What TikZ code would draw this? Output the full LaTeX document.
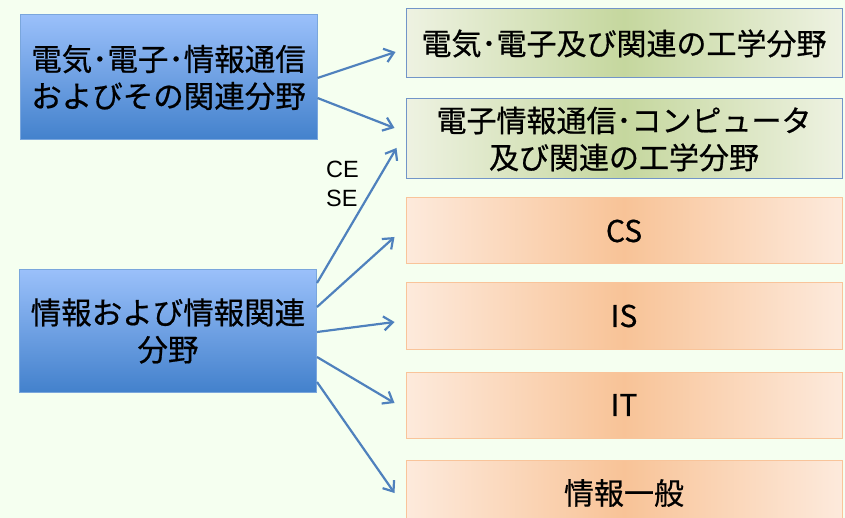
\documentclass[tikz,border=0pt]{standalone}
\usepackage{fontspec}
\setmainfont{Noto Sans CJK JP}[FakeBold=0.6]
\newfontfamily\latfont{Liberation Sans}
\usetikzlibrary{arrows.meta}
\definecolor{bg}{HTML}{F5FFF0}
\definecolor{bluetop}{HTML}{9AC0FA}
\definecolor{bluebot}{HTML}{4381CC}
\definecolor{blueline}{HTML}{7AA6DC}
\definecolor{greenedge}{HTML}{EEF2E2}
\definecolor{greenmid}{HTML}{C5D79E}
\definecolor{greenline}{HTML}{7295C8}
\definecolor{orangeedge}{HTML}{FDEADC}
\definecolor{orangemid}{HTML}{F8C397}
\definecolor{orangeline}{HTML}{F9C49A}
\definecolor{arrowblue}{HTML}{4F81BD}
\tikzset{
  srcbox/.style={draw=blueline, line width=1pt, top color=bluetop, bottom color=bluebot,
    minimum width=297pt, align=center, inner sep=0pt,
    font=\fontsize{30.5}{37}\selectfont},
  greenbox/.style={draw=greenline, line width=1pt, left color=greenedge, right color=greenedge, middle color=greenmid,
    minimum width=436pt, align=center, inner sep=0pt,
    font=\fontsize{30}{37}\selectfont},
  orangebox/.style={draw=orangeline, line width=1pt, left color=orangeedge, right color=orangeedge, middle color=orangemid,
    minimum width=436pt, minimum height=66pt, align=center, inner sep=0pt,
    font=\fontsize{30}{37}\selectfont},
  arr/.style={draw=arrowblue, line width=2.2pt, -{Straight Barb[length=9pt,width=14pt,line width=2.2pt]}}
}
\begin{document}
\begin{tikzpicture}[x=1pt,y=-1pt]
\useasboundingbox (0,0) rectangle (845,518);
\clip (0,0) rectangle (845,518);
\fill[bg] (0,0) rectangle (845,518);

\node[srcbox, minimum height=125pt] (L1) at (168.5,77.5) {電気･電子･情報通信\\およびその関連分野};
\node[srcbox, minimum height=122pt] (L2) at (168,331) {情報および情報関連\\分野};

\node[greenbox, minimum height=69pt] (A) at (624,43.5) {電気･電子及び関連の工学分野};
\node[greenbox, minimum height=80pt] (B) at (624,139) {電子情報通信･コンピュータ\\及び関連の工学分野};
\node[orangebox] (CS) at (624,231) {CS};
\node[orangebox] (IS) at (624,316) {IS};
\node[orangebox] (IT) at (624,405) {IT};
\node[orangebox] (GEN) at (624,493) {情報一般};

\node[font=\latfont\fontsize{23.5}{29}\selectfont, align=left, inner sep=0pt, anchor=west] (CESE) at (326,184) {CE\\SE};

\draw[arr] ([yshift=-0.5pt]L1.east) -- ([xshift=-10pt,yshift=-8.5pt]A.west);
\draw[arr] ([yshift=-20.5pt]L1.east) -- ([xshift=-11pt,yshift=11pt]B.west);
\draw[arr] ([yshift=48pt]L2.east) -- ([xshift=-9pt,yshift=-9pt]B.west);
\draw[arr] ([yshift=24pt]L2.east) -- ([xshift=-11pt,yshift=-6pt]CS.west);
\draw[arr] ([yshift=-1pt]L2.east) -- ([xshift=-11pt,yshift=-6pt]IS.west);
\draw[arr] ([yshift=-26pt]L2.east) -- ([xshift=-11pt,yshift=2pt]IT.west);
\draw[arr] ([yshift=-51pt]L2.east) -- ([xshift=-11pt,yshift=0pt]GEN.west);
\end{tikzpicture}
\end{document}
